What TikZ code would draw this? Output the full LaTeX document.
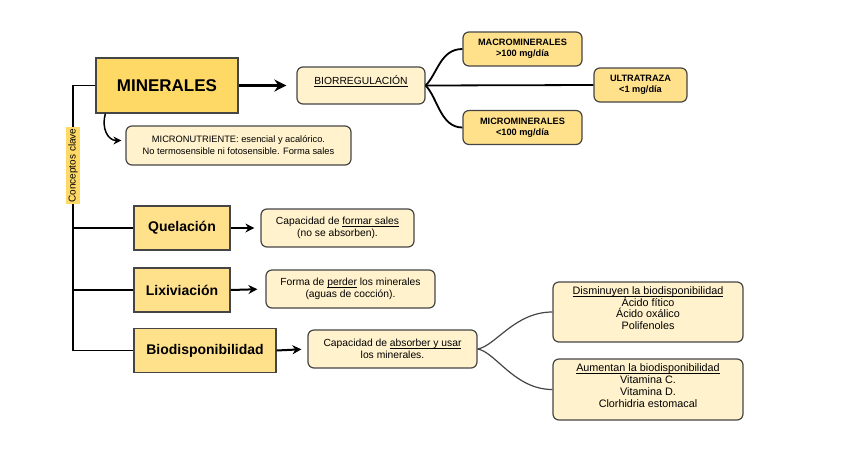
\documentclass[tikz,border=0pt]{standalone}
\usepackage{fontspec}
\setmainfont{Liberation Sans}
\usetikzlibrary{arrows.meta}
\definecolor{oro}{HTML}{FFD966}
\definecolor{oroclaro}{HTML}{FFE18C}
\definecolor{crema}{HTML}{FFF2CC}
\definecolor{borde}{HTML}{454545}
\newcommand{\subr}[1]{\underline{\smash{#1}}}
\tikzset{
  concepto/.style={draw=borde, line width=1.3pt, fill=oroclaro, inner sep=2pt,
    font=\bfseries\fontsize{14}{16}\selectfont, minimum height=44pt},
  nota/.style={draw=borde, line width=1.2pt, fill=crema, rounded corners=6pt,
    align=center, inner sep=2pt, font=\fontsize{10.3}{12}\selectfont},
  rango/.style={draw=borde, line width=1.2pt, fill=oroclaro, rounded corners=6pt,
    align=center, inner sep=2pt, font=\bfseries\fontsize{9.2}{11}\selectfont,
    minimum width=119pt, minimum height=34pt},
  flecha/.style={line width=2pt, -{Stealth[length=9pt,width=9pt]}},
  rama/.style={line width=1.8pt},
}
\begin{document}
\begin{tikzpicture}[x=1pt,y=-1pt]
  \useasboundingbox (0,0) rectangle (848,448);
  % nodo principal y su rama superior
  \node[concepto, fill=oro, font=\bfseries\fontsize{17}{20}\selectfont,
    minimum width=142pt, minimum height=55pt] (minerales) at (167,85.5) {MINERALES};
  \node[nota, minimum width=128pt, minimum height=37pt] (biorreg) at (361,85.5)
    {\subr{BIORREGULACIÓN}};
  \node[rango] (macro) at (522.5,49) {MACROMINERALES\\>100 mg/día};
  \node[rango, minimum width=93pt] (ultra) at (640.5,85) {ULTRATRAZA\\<1 mg/día};
  \node[rango] (micro) at (522.5,127.5) {MICROMINERALES\\<100 mg/día};
  \node[nota, minimum width=225pt, minimum height=39pt, font=\fontsize{9.3}{12}\selectfont]
    (micronut) at (238.5,145.5)
    {MICRONUTRIENTE: esencial y acalórico.\\No termosensible ni fotosensible. Forma sales};
  % conceptos clave
  \node[concepto, minimum width=96pt] (quel) at (182,228) {Quelación};
  \node[nota, minimum width=153pt, minimum height=38pt] (quelnota) at (337.5,228)
    {Capacidad de \subr{formar sales}\\(no se absorben).};
  \node[concepto, minimum width=96pt] (lix) at (182,290) {Lixiviación};
  \node[nota, minimum width=169pt, minimum height=38pt] (lixnota) at (350.5,289)
    {Forma de \subr{perder} los minerales\\(aguas de cocción).};
  \node[concepto, minimum width=142pt] (bio) at (205,350.5) {Biodisponibilidad};
  \node[nota, minimum width=169pt, minimum height=38pt] (bionota) at (392.5,349)
    {Capacidad de \subr{absorber y usar}\\los minerales.};
  \node[nota, minimum width=190pt, minimum height=60pt, font=\fontsize{10.8}{11.7}\selectfont]
    (dismin) at (648,312)
    {\subr{Disminuyen la biodisponibilidad}\\Ácido fítico\\Ácido oxálico\\Polifenoles};
  \node[nota, minimum width=190pt, minimum height=61pt, font=\fontsize{10.8}{11.7}\selectfont]
    (aumen) at (648,389.5)
    {\subr{Aumentan la biodisponibilidad}\\Vitamina C.\\Vitamina D.\\Clorhidria estomacal};
  % tronco vertical
  \coordinate (abajo) at (73,350.5);
  \draw[rama] (minerales.west) -| (abajo) -- (bio.west);
  \draw[rama] (quel.west) -- (quel.west -| abajo);
  \draw[rama] (lix.west) -- (lix.west -| abajo);
  \node[fill=oro, rotate=90, inner sep=2pt, font=\fontsize{10}{11}\selectfont]
    (clave) at (73,165.5) {Conceptos clave};
  % flechas
  \draw[flecha, line width=2.5pt, -{Stealth[length=12pt,width=12pt]}, shorten >=10pt]
    (minerales.east) -- (biorreg.west);
  \draw[flecha, line width=1.5pt, -{Stealth[length=8pt,width=8pt]}]
    ([xshift=10pt]minerales.south west) .. controls +(-4,14) and +(-14,0) ..
    ([xshift=-4pt,yshift=5pt]micronut.west);
  \draw[flecha, shorten >=6pt] (quel.east) -- (quelnota.west);
  \draw[flecha, shorten >=8pt] (lix.east) -- (lixnota.west);
  \draw[flecha, shorten >=6pt] (bio.east) -- (bionota.west);
  % ramas de la biorregulacion
  \draw[rama] (biorreg.east) .. controls +(12,-12) and +(-22,0) .. (macro.west);
  \draw[rama] (biorreg.east) -- (ultra.west);
  \draw[rama] (biorreg.east) .. controls +(12,12) and +(-22,0) .. (micro.west);
  % ramas de la biodisponibilidad
  \draw[line width=1.2pt, draw=borde] (bionota.east) .. controls +(18,-3) and +(-38,0) .. (dismin.west);
  \draw[line width=1.2pt, draw=borde] (bionota.east) .. controls +(18,3) and +(-38,0) .. (aumen.west);
\end{tikzpicture}
\end{document}
